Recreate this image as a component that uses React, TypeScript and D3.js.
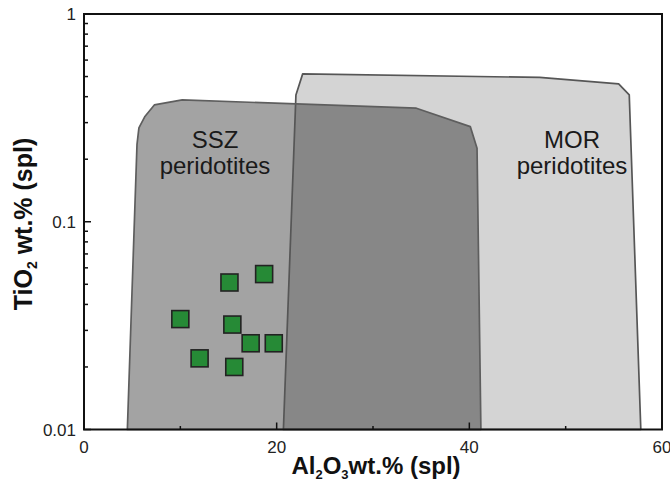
import React from "react";
import * as d3 from "d3";

// Field outlines (Al2O3 wt.%, TiO2 wt.%) for spinel compositions
const sszAl = [4.5, 5.5, 5.7, 6.3, 7.3, 10.2, 34.5, 40.1, 40.8, 41.2];
const sszTi = [0.01, 0.235, 0.283, 0.32, 0.365, 0.386, 0.352, 0.287, 0.226, 0.01];

const morAl = [20.7, 22.0, 22.7, 47.3, 55.5, 56.6, 57.8];
const morTi = [0.01, 0.408, 0.515, 0.495, 0.461, 0.408, 0.01];

// Spinel analyses
const sampleAl = [15.1, 18.7, 10.0, 15.4, 17.3, 19.7, 12.0, 15.6];
const sampleTi = [0.051, 0.056, 0.034, 0.032, 0.026, 0.026, 0.022, 0.02];

const xTicks = [0, 20, 40, 60];
const xMinor = [10, 30, 50];
const yTicks = [1, 0.1, 0.01];
const yTickLabels = ["1", "0.1", "0.01"];

const W = 670;
const H = 484;
const FONT = "'Liberation Sans', Arial, sans-serif";

export default function App() {
  const x = d3.scaleLinear().domain([0, 60]).range([84, 662]);
  const y = d3.scaleLog().domain([0.01, 1]).range([429.5, 14]);

  const line = d3
    .line<[number, number]>()
    .x((d) => x(d[0]))
    .y((d) => y(d[1]));

  const ssz = line(sszAl.map((a, i) => [a, sszTi[i]] as [number, number])) + "Z";
  const mor = line(morAl.map((a, i) => [a, morTi[i]] as [number, number])) + "Z";

  const yMinor: number[] = [];
  [0.01, 0.1].forEach((dec) => {
    for (let k = 2; k <= 9; k++) yMinor.push(dec * k);
  });

  const [x0, x1] = x.range();
  const [yb, yt] = y.range();
  const sq = 17;

  return (
    <svg
      width={W}
      height={H}
      style={{ position: "absolute", left: 0, top: 0, background: "#fff" }}
      fontFamily={FONT}
    >
      {/* MOR field */}
      <path d={mor} fill="#d4d4d4" stroke="none" />
      {/* SSZ field, translucent so the overlap darkens */}
      <path d={ssz} fill="#000" fillOpacity={0.36} stroke="none" />
      <path d={mor} fill="none" stroke="#565656" strokeWidth={1.7} strokeLinejoin="round" />
      <path d={ssz} fill="none" stroke="#5e5e5e" strokeWidth={1.7} strokeLinejoin="round" />

      <text x={215} y={148} fontSize={24} textAnchor="middle" fill="#1a1a1a">SSZ</text>
      <text x={215} y={174} fontSize={24} textAnchor="middle" fill="#1a1a1a">peridotites</text>
      <text x={572} y={148} fontSize={24} textAnchor="middle" fill="#1a1a1a">MOR</text>
      <text x={572} y={174} fontSize={24} textAnchor="middle" fill="#1a1a1a">peridotites</text>

      {sampleAl.map((a, i) => (
        <rect
          key={i}
          x={x(a) - sq / 2}
          y={y(sampleTi[i]) - sq / 2}
          width={sq}
          height={sq}
          fill="#268a36"
          stroke="#222"
          strokeWidth={1.6}
        />
      ))}

      {/* frame */}
      <rect x={x0} y={yt} width={x1 - x0} height={yb - yt} fill="none" stroke="#111" strokeWidth={2} />

      {/* x ticks */}
      {xTicks.map((t) => (
        <g key={"xt" + t}>
          <line x1={x(t)} x2={x(t)} y1={yb} y2={yb - 7} stroke="#111" strokeWidth={1.5} />
          <text x={x(t)} y={453} fontSize={17} textAnchor="middle" fill="#222">{t}</text>
        </g>
      ))}
      {xMinor.map((t) => (
        <line key={"xm" + t} x1={x(t)} x2={x(t)} y1={yb} y2={yb - 3.5} stroke="#111" strokeWidth={1.5} />
      ))}

      {/* y ticks */}
      {yTicks.map((t, i) => (
        <g key={"yt" + t}>
          <line x1={x0} x2={x0 + 7} y1={y(t)} y2={y(t)} stroke="#111" strokeWidth={1.5} />
          <text x={76} y={y(t) + 6} fontSize={17} textAnchor="end" fill="#222">{yTickLabels[i]}</text>
        </g>
      ))}
      {yMinor.map((t) => (
        <line key={"ym" + t} x1={x0} x2={x0 + 4} y1={y(t)} y2={y(t)} stroke="#111" strokeWidth={1.5} />
      ))}

      {/* axis titles */}
      <text x={376} y={474} fontSize={24} fontWeight="bold" textAnchor="middle" fill="#111">
        Al<tspan fontSize={13} dy={5}>2</tspan>
        <tspan dy={-5}>O</tspan>
        <tspan fontSize={13} dy={5}>3</tspan>
        <tspan dy={-5}>wt.% (spl)</tspan>
      </text>
      <text
        transform={`translate(32, 224) rotate(-90)`}
        fontSize={25}
        fontWeight="bold"
        textAnchor="middle"
        fill="#111"
      >
        TiO<tspan fontSize={14} dy={5}>2</tspan>
        <tspan dy={-5}> wt.% (spl)</tspan>
      </text>
    </svg>
  );
}
